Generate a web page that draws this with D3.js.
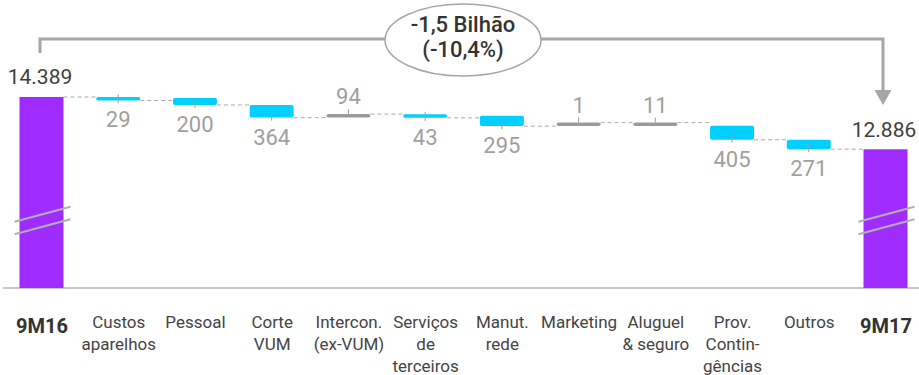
<!DOCTYPE html>
<html>
<head>
<meta charset="utf-8">
<script src="https://cdn.jsdelivr.net/npm/d3@7"></script>
<style>
  html, body { margin: 0; padding: 0; background: #fff; }
  svg { display: block; font-family: Roboto, "Noto Sans", sans-serif; }
</style>
</head>
<body>
<svg id="chart" width="919" height="375"></svg>
<script>
// Cost bridge 9M16 -> 9M17 (R$ milhões)
const categories = ["9M16", "Custos aparelhos", "Pessoal", "Corte VUM", "Intercon. (ex-VUM)",
  "Serviços de terceiros", "Manut. rede", "Marketing", "Aluguel & seguro",
  "Prov. Contingências", "Outros", "9M17"];
const categoryLines = [["9M16"], ["Custos", "aparelhos"], ["Pessoal"], ["Corte", "VUM"],
  ["Intercon.", "(ex-VUM)"], ["Serviços", "de", "terceiros"], ["Manut.", "rede"], ["Marketing"],
  ["Aluguel", "& seguro"], ["Prov.", "Contin-", "gências"], ["Outros"], ["9M17"]];
const values = [14389, -29, -200, -364, 94, -43, -295, 1, 11, -405, -271, 12886];
const kinds = ["total", "delta", "delta", "delta", "delta", "delta", "delta", "delta", "delta", "delta", "delta", "total"];
const bridgeLabel = ["-1,5 Bilhão", "(-10,4%)"];

const svg = d3.select("#chart");
const W = 919, baseY = 288, barW = 44;
const colors = { total: "#9f2bff", down: "#00cfff", up: "#9a9a9a" };
const fmt = d3.formatLocale({ decimal: ",", thousands: ".", grouping: [3], currency: ["R$", ""] }).format(",d");

const x = d3.scalePoint().domain(categories).range([41.5, 885.5]);
const y = d3.scaleLinear().domain([8900, 14400]).range([baseY, 96.6]);

// running levels of the waterfall
let level = 0;
const bars = categories.map((c, i) => {
  const v = values[i];
  const cx = x(c);
  if (kinds[i] === "total") {
    level = v;
    return { c, i, v, cx, kind: "total", y0: y(v), y1: baseY, end: y(v) };
  }
  const start = level;
  level = start + v;
  let top = y(Math.max(start, level)), bot = y(Math.min(start, level));
  if (bot - top < 3.5) {
    if (v < 0) bot = top + 3.5; else top = bot - 3.5;
  }
  return { c, i, v, cx, kind: v < 0 ? "down" : "up", y0: top, y1: bot, end: v < 0 ? bot : top };
});

// baseline
svg.append("line").attr("x1", 3).attr("x2", W).attr("y1", baseY).attr("y2", baseY)
  .attr("stroke", "#b3b3b3").attr("stroke-width", 1.6);

// dashed connectors
bars.slice(0, -1).forEach((b, k) => {
  const n = bars[k + 1];
  svg.append("line")
    .attr("x1", b.cx + barW / 2).attr("x2", n.cx - barW / 2)
    .attr("y1", b.end).attr("y2", b.end)
    .attr("stroke", "#ababab").attr("stroke-width", 1).attr("stroke-dasharray", "4,3");
});

// bars
svg.append("g").selectAll("rect").data(bars).join("rect")
  .attr("x", d => d.cx - barW / 2)
  .attr("width", barW)
  .attr("y", d => d.y0)
  .attr("height", d => d.y1 - d.y0)
  .attr("rx", d => d.kind === "total" ? 0 : 2)
  .attr("fill", d => colors[d.kind]);

// axis break marks on the total bars
bars.filter(d => d.kind === "total").forEach(d => {
  [0, 12.5].forEach(off => {
    svg.append("line")
      .attr("x1", d.cx - 27).attr("y1", 221.7 + off)
      .attr("x2", d.cx + 29).attr("y2", 206.7 + off)
      .attr("stroke", "#b0b0b0").attr("stroke-width", 2);
  });
});

// leader ticks and value labels for the deltas
const deltas = bars.filter(d => d.kind !== "total");
deltas.forEach(d => {
  const down = d.kind === "down";
  svg.append("line")
    .attr("x1", d.cx).attr("x2", d.cx)
    .attr("y1", down ? d.y1 - 6 : d.y0 - 5)
    .attr("y2", down ? d.y1 + 3 : d.y0)
    .attr("stroke", "#9e9e9e").attr("stroke-width", 1);
  svg.append("text")
    .attr("x", d.cx)
    .attr("y", down ? d.y1 + 27 : d.y0 - 10)
    .attr("text-anchor", "middle")
    .attr("font-size", 22)
    .attr("fill", "#a0a0a0")
    .text(fmt(Math.abs(d.v)));
});

// total value labels
bars.filter(d => d.kind === "total").forEach(d => {
  svg.append("text")
    .attr("x", d.cx - 1.5)
    .attr("y", d.y0 - 12.5)
    .attr("text-anchor", "middle")
    .attr("font-size", 21)
    .attr("fill", "#404040")
    .text(fmt(d.v));
});

// category axis
const axis = svg.append("g")
  .attr("transform", `translate(0,${baseY})`)
  .call(d3.axisBottom(x).tickSize(0).tickFormat(""));
axis.select(".domain").remove();
axis.selectAll(".tick").each(function (c, i) {
  const lines = categoryLines[i];
  const total = kinds[i] === "total";
  const t = d3.select(this).append("text")
    .attr("text-anchor", "middle")
    .attr("fill", total ? "#333" : "#444")
    .attr("font-size", total ? 20 : 17)
    .attr("font-weight", total ? "bold" : "normal")
    .attr("font-family", "Roboto, sans-serif");
  lines.forEach((ln, j) => {
    t.append("tspan").attr("x", 0).attr("y", (total ? 45 : 40) + j * 22).text(ln);
  });
});

// bracket from 9M16 to 9M17 with the total change
const x0 = x(categories[0]) - 1.5, x1 = x(categories[categories.length - 1]) - 2.5;
const by = 39, ell = { cx: 463, cy: 40, rx: 78, ry: 36 };
svg.append("path")
  .attr("d", `M${x0},53 V${by} H${ell.cx - ell.rx} M${ell.cx + ell.rx},${by} H${x1} V91`)
  .attr("fill", "none").attr("stroke", "#a6a6a6").attr("stroke-width", 3);
svg.append("path")
  .attr("d", `M${x1 - 8.5},90 L${x1 + 8.5},90 L${x1},105 Z`)
  .attr("fill", "#a6a6a6");
svg.append("ellipse")
  .attr("cx", ell.cx).attr("cy", ell.cy).attr("rx", ell.rx).attr("ry", ell.ry)
  .attr("fill", "#fff").attr("stroke", "#a6a6a6").attr("stroke-width", 1.5);
bridgeLabel.forEach((t, j) => {
  svg.append("text")
    .attr("x", ell.cx).attr("y", 32 + j * 25)
    .attr("text-anchor", "middle")
    .attr("font-size", 22).attr("font-weight", 500)
    .attr("fill", "#333")
    .text(t);
});
</script>
</body>
</html>
